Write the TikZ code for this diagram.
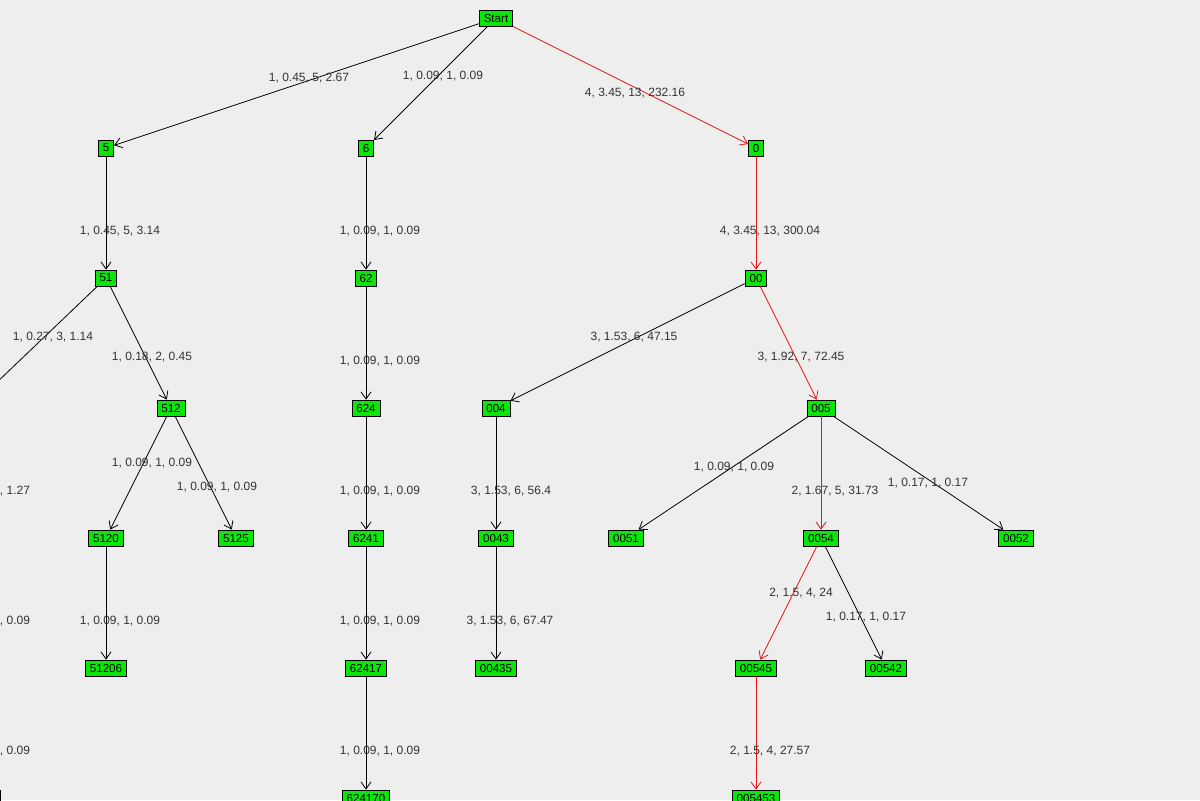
\documentclass[tikz,border=0pt]{standalone}
\usepackage{fontspec}
\setmainfont{Liberation Sans}
\usetikzlibrary{arrows.meta}
\definecolor{bgray}{RGB}{238,238,238}
\definecolor{tgreen}{RGB}{10,230,10}
\definecolor{tred}{RGB}{230,20,20}

\begin{document}
\begin{tikzpicture}[x=0.5pt,y=-0.5pt,
	tnode/.style={draw=black,fill=tgreen,line width=0.4pt,inner ysep=1pt,inner xsep=2.2pt,minimum height=8pt,font=\fontsize{5.8}{6}\selectfont},
	lbl/.style={font=\fontsize{6}{6.5}\selectfont,text=black!80,inner sep=0pt},
	tedge/.style={draw=black,line width=0.4pt,-{Straight Barb[length=3.5pt,width=5pt]}},
	redge/.style={tedge,draw=tred}]

\fill[bgray] (0,0) rectangle (1200,800);
\useasboundingbox (0,0) rectangle (1200,800);
\clip (0,0) rectangle (1200,800);

% nodes
\node[tnode] (start) at (496,18) {Start};
\node[tnode] (n5) at (106,148) {5};
\node[tnode] (n6) at (366,148) {6};
\node[tnode] (n0) at (756,148) {0};

\node[tnode] (n51) at (106,278) {51};
\node[tnode] (n62) at (366,278) {62};
\node[tnode] (n00) at (756,278) {00};

\node[tnode] (n511) at (-30,408) {511};
\node[tnode] (n512) at (171,408) {512};
\node[tnode] (n624) at (366,408) {624};
\node[tnode] (n004) at (496,408) {004};
\node[tnode] (n005) at (821,408) {005};

\node[tnode] (n5111) at (-30,538) {5111};
\node[tnode] (n5120) at (106,538) {5120};
\node[tnode] (n5125) at (236,538) {5125};
\node[tnode] (n6241) at (366,538) {6241};
\node[tnode] (n0043) at (496,538) {0043};
\node[tnode] (n0051) at (626,538) {0051};
\node[tnode] (n0054) at (821,538) {0054};
\node[tnode] (n0052) at (1016,538) {0052};

\node[tnode] (n51111) at (-30,668) {51111};
\node[tnode] (n51206) at (106,668) {51206};
\node[tnode] (n62417) at (366,668) {62417};
\node[tnode] (n00435) at (496,668) {00435};
\node[tnode] (n00545) at (756,668) {00545};
\node[tnode] (n00542) at (886,668) {00542};

\node[tnode] (n511111) at (-22,798) {511111};
\node[tnode] (n624170) at (366,798) {624170};
\node[tnode] (n005453) at (756,798) {005453};

% edges
\draw[tedge] (start) -- (n5);
\draw[tedge] (start) -- (n6);
\draw[redge] (start) -- (n0);
\draw[tedge] (n5) -- (n51);
\draw[tedge] (n6) -- (n62);
\draw[redge] (n0) -- (n00);
\draw[tedge] (n51) -- (n511);
\draw[tedge] (n51) -- (n512);
\draw[tedge] (n62) -- (n624);
\draw[tedge] (n00) -- (n004);
\draw[redge] (n00) -- (n005);
\draw[tedge] (n511) -- (n5111);
\draw[tedge] (n512) -- (n5120);
\draw[tedge] (n512) -- (n5125);
\draw[tedge] (n624) -- (n6241);
\draw[tedge] (n004) -- (n0043);
\draw[tedge] (n005) -- (n0051);
\draw[redge] (n005) -- (n0054);
\draw[tedge] (n005) -- (n0052);
\draw[tedge] (n5111) -- (n51111);
\draw[tedge] (n5120) -- (n51206);
\draw[tedge] (n6241) -- (n62417);
\draw[tedge] (n0043) -- (n00435);
\draw[redge] (n0054) -- (n00545);
\draw[tedge] (n0054) -- (n00542);
\draw[tedge] (n51111) -- (n511111);
\draw[tedge] (n62417) -- (n624170);
\draw[redge] (n00545) -- (n005453);

% labels
\node[lbl] at (309,78) {1, 0.45, 5, 2.67};
\node[lbl] at (443,76) {1, 0.09, 1, 0.09};
\node[lbl] at (635,93) {4, 3.45, 13, 232.16};
\node[lbl] at (120,231) {1, 0.45, 5, 3.14};
\node[lbl] at (380,231) {1, 0.09, 1, 0.09};
\node[lbl] at (770,231) {4, 3.45, 13, 300.04};
\node[lbl] at (53,337) {1, 0.27, 3, 1.14};
\node[lbl] at (152,357) {1, 0.18, 2, 0.45};
\node[lbl] at (380,361) {1, 0.09, 1, 0.09};
\node[lbl] at (634,337) {3, 1.53, 6, 47.15};
\node[lbl] at (801,357) {3, 1.92, 7, 72.45};
\node[lbl] at (-10,491) {1, 0.27, 3, 1.27};
\node[lbl] at (152,463) {1, 0.09, 1, 0.09};
\node[lbl] at (217,487) {1, 0.09, 1, 0.09};
\node[lbl] at (380,491) {1, 0.09, 1, 0.09};
\node[lbl] at (511,491) {3, 1.53, 6, 56.4};
\node[lbl] at (734,467) {1, 0.09, 1, 0.09};
\node[lbl] at (835,491) {2, 1.67, 5, 31.73};
\node[lbl] at (928,483) {1, 0.17, 1, 0.17};
\node[lbl] at (-10,621) {1, 0.09, 1, 0.09};
\node[lbl] at (120,621) {1, 0.09, 1, 0.09};
\node[lbl] at (380,621) {1, 0.09, 1, 0.09};
\node[lbl] at (510,621) {3, 1.53, 6, 67.47};
\node[lbl] at (801,593) {2, 1.5, 4, 24};
\node[lbl] at (866,617) {1, 0.17, 1, 0.17};
\node[lbl] at (-10,751) {1, 0.09, 1, 0.09};
\node[lbl] at (380,751) {1, 0.09, 1, 0.09};
\node[lbl] at (770,751) {2, 1.5, 4, 27.57};

\end{tikzpicture}
\end{document}
